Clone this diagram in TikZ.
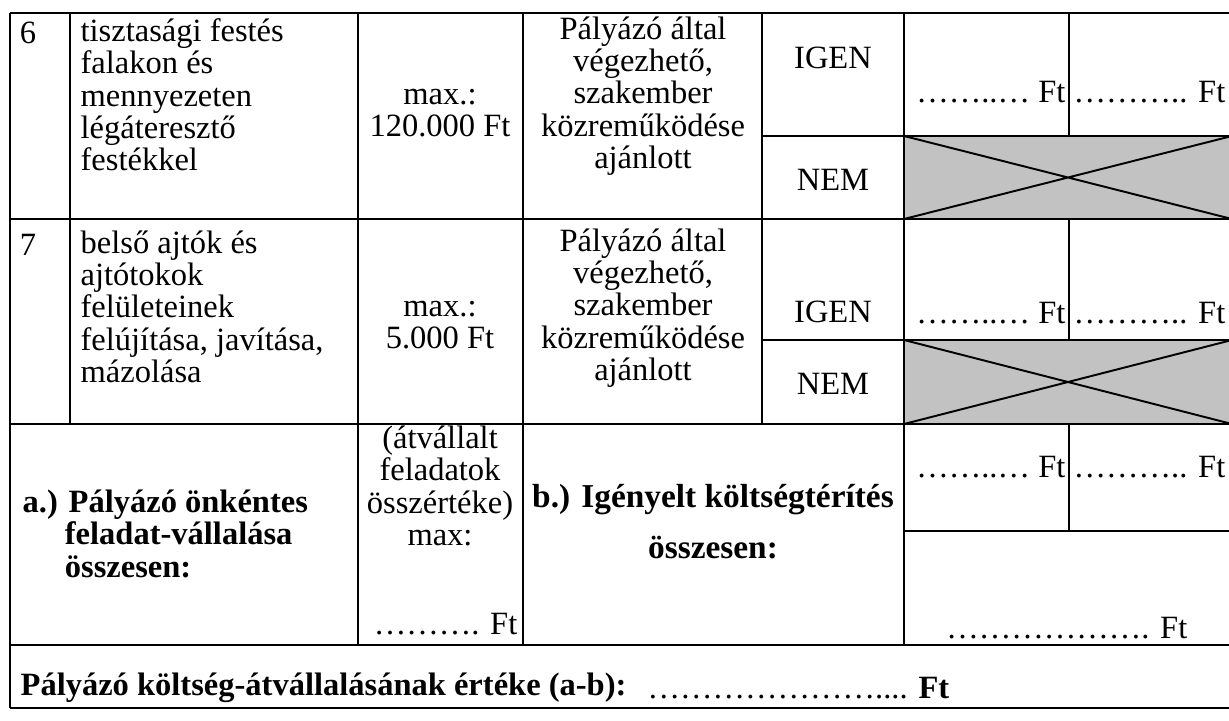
\documentclass[tikz,border=0pt]{standalone}
\usepackage{fontspec}
\setmainfont{Liberation Serif}

\begin{document}
\begin{tikzpicture}[x=0.02cm,y=-0.02cm,line width=0.75pt,
    every node/.style={inner sep=0pt,font=\fontsize{18.5}{18.4}\selectfont},
    txt/.style={align=center},
    ltxt/.style={align=left,anchor=north west},
    ftxt/.style={anchor=east},
    bold/.style={font=\fontsize{18.5}{18.6}\selectfont\bfseries},
    bbold/.style={font=\fontsize{19}{19}\selectfont\bfseries},
    xbox/.style={fill=gray!48,draw},
    xline/.style={line width=1.1pt}]
  \useasboundingbox (0,0) rectangle (1229,720);
  % szurke mezok
  \draw[xbox] (904,136) rectangle (1232,219);
  \draw[xline] (904,136) -- (1232,219) (904,219) -- (1232,136);
  \draw[xbox] (904,340) rectangle (1232,424);
  \draw[xline] (904,340) -- (1232,424) (904,424) -- (1232,340);
  % vizszintes vonalak
  \draw (10,13) -- (1232,13);
  \draw (762,136) -- (1232,136);
  \draw (10,219) -- (1232,219);
  \draw (762,340) -- (1232,340);
  \draw (10,424) -- (1232,424);
  \draw (904,531) -- (1232,531);
  \draw (10,645) -- (1232,645);
  \draw (10,708) -- (1232,708);
  % fuggoleges vonalak
  \draw (10,13) -- (10,708);
  \draw (70,13) -- (70,424);
  \draw (358,13) -- (358,645);
  \draw (523,13) -- (523,645);
  \draw (762,13) -- (762,424);
  \draw (904,13) -- (904,645);
  \draw (1069,13) -- (1069,136);
  \draw (1069,219) -- (1069,340);
  \draw (1069,424) -- (1069,531);
  % 6. sor
  \node (n6) at (28,33) {6};
  \node[ltxt] (d6) at (80,18) {tisztasági festés\\falakon és\\mennyezeten\\légáteresztő\\festékkel};
  \node[txt] (m6) at (440,113) {max.:\\120.000 Ft};
  \node[txt] (p6) at (643,96) {Pályázó által\\végezhető,\\szakember\\közreműködése\\ajánlott};
  \node (i6) at (833,58) {IGEN};
  \node (e6) at (833,180) {NEM};
  \node[ftxt] (fa6) at (1066,92) {……..… Ft};
  \node[ftxt] (fb6) at (1226,92) {……….. Ft};
  % 7. sor
  \node (n7) at (28,245) {7};
  \node[ltxt] (d7) at (80,230) {belső ajtók és\\ajtótokok\\felületeinek\\felújítása, javítása,\\mázolása};
  \node[txt] (m7) at (440,325) {max.:\\5.000 Ft};
  \node[txt] (p7) at (643,308) {Pályázó által\\végezhető,\\szakember\\közreműködése\\ajánlott};
  \node (i7) at (833,312) {IGEN};
  \node (e7) at (833,384) {NEM};
  \node[ftxt] (fa7) at (1066,313) {……..… Ft};
  \node[ftxt] (fb7) at (1226,313) {……….. Ft};
  % osszesites
  \node[ltxt,bold] (a) at (22,489) {a.) Pályázó önkéntes\\\hspace*{1.3em}feladat-vállalása\\\hspace*{1.3em}összesen:};
  \node[txt] (ax) at (440,486) {(átvállalt\\feladatok\\összértéke)\\max:};
  \node[ftxt] (af) at (518,624) {………. Ft};
  \node[bbold] (b) at (713,500) {b.) Igényelt költségtérítés};
  \node[bbold] (b2) at (713,548) {összesen:};
  \node[ftxt] (bf1) at (1066,467) {……..… Ft};
  \node[ftxt] (bf2) at (1226,467) {……….. Ft};
  \node[ftxt] (bf) at (1188,628) {………………. Ft};
  % utolso sor
  \node[anchor=west,bold] (c) at (20,688) {Pályázó költség-átvállalásának értéke (a-b):};
  \node[anchor=west] (cf) at (647,688) {………………….... \textbf{Ft}};
\end{tikzpicture}
\end{document}
